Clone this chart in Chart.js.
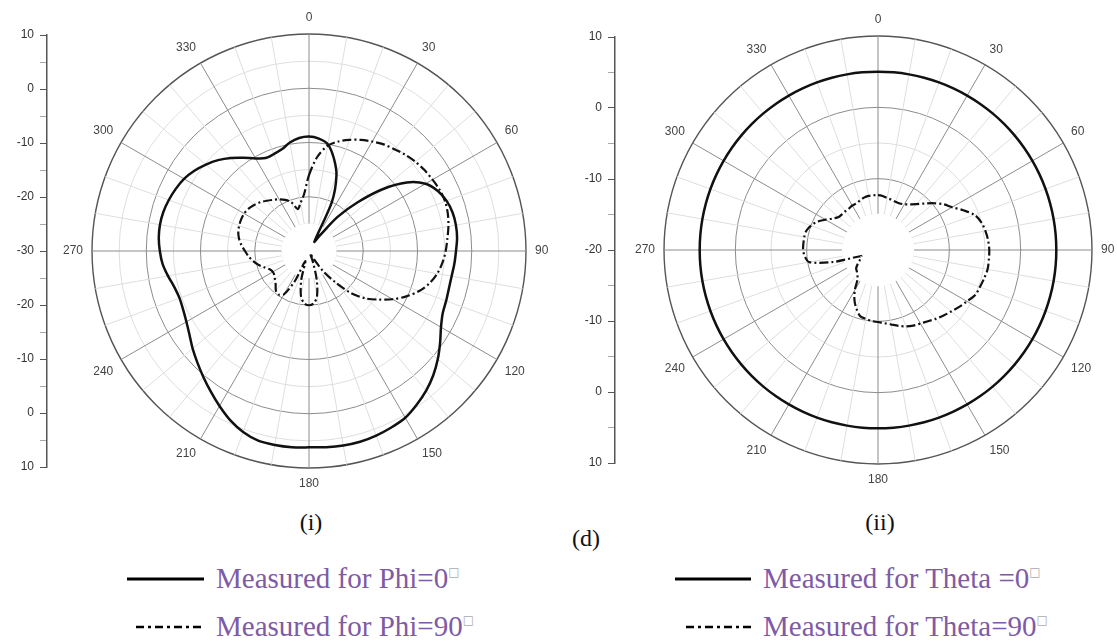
<!DOCTYPE html>
<html>
<head>
<meta charset="utf-8">
<script src="https://cdn.jsdelivr.net/npm/chart.js@4.4.1/dist/chart.umd.min.js"></script>
<style>
  html, body { margin: 0; padding: 0; background: #fff; overflow: hidden; }
  body { width: 1117px; height: 642px; position: relative; }
  canvas { position: absolute; }
  .cap { position: absolute; font-family: "Liberation Serif", "Times New Roman", serif; font-size: 24px; line-height: 28px; color: #111; transform: translateX(-50%); }
  .leg { position: absolute; font-family: "Liberation Serif", "Times New Roman", serif; font-size: 29px; line-height: 32px; color: #7f5aa6; white-space: nowrap; }
  .deg { font-family: "DejaVu Sans", sans-serif; font-size: 12px; color: #aaa; position: relative; top: -12px; }
  svg { position: absolute; }
</style>
</head>
<body>
<canvas id="axisL" width="60" height="500" style="left:0;top:0"></canvas>
<canvas id="polarL" width="492" height="492" style="left:60px;top:5px"></canvas>
<canvas id="axisR" width="60" height="500" style="left:568px;top:0"></canvas>
<canvas id="polarR" width="486" height="486" style="left:632px;top:7px"></canvas>

<div class="cap" style="left:311px;top:508px">(i)</div>
<div class="cap" style="left:586px;top:524px">(d)</div>
<div class="cap" style="left:880px;top:508px">(ii)</div>

<svg style="left:127px;top:574px" width="77" height="10"><line x1="0" y1="5" x2="77" y2="5" stroke="#000" stroke-width="3"/></svg>
<div class="leg" style="left:216px;top:562px">Measured for Phi=0<span class="deg">□</span></div>
<svg style="left:136px;top:622px" width="68" height="10"><line x1="0" y1="5" x2="68" y2="5" stroke="#000" stroke-width="2.5" stroke-dasharray="8 4 3 4"/></svg>
<div class="leg" style="left:216px;top:610px">Measured for Phi=90<span class="deg">□</span></div>

<svg style="left:675px;top:574px" width="76" height="10"><line x1="0" y1="5" x2="76" y2="5" stroke="#000" stroke-width="3"/></svg>
<div class="leg" style="left:763px;top:562px">Measured for Theta =0<span class="deg">□</span></div>
<svg style="left:686px;top:622px" width="65" height="10"><line x1="0" y1="5" x2="65" y2="5" stroke="#000" stroke-width="2.5" stroke-dasharray="8 4 3 4"/></svg>
<div class="leg" style="left:763px;top:610px">Measured for Theta=90<span class="deg">□</span></div>

<script>
// angle categories (degrees), one every 5
const angles = [0, 5, 10, 15, 20, 25, 30, 35, 40, 45, 50, 55, 60, 65, 70, 75, 80, 85,
  90, 95, 100, 105, 110, 115, 120, 125, 130, 135, 140, 145, 150, 155, 160, 165, 170, 175,
  180, 185, 190, 195, 200, 205, 210, 215, 220, 225, 230, 235, 240, 245, 250, 255, 260, 265,
  270, 275, 280, 285, 290, 295, 300, 305, 310, 315, 320, 325, 330, 335, 340, 345, 350, 355];

// (i) Phi cuts, dB
const phi0 = [-8.9, -9.2, -10.0, -12.3, -15.2, -20.0, -28.0, -26.5, -21.8, -17.3, -12.3, -8.0,
  -5.2, -3.8, -3.0, -2.6, -2.5, -2.6, -2.9, -3.1, -3.3, -3.3, -3.1, -2.8,
  -1.9, -0.5, 1.0, 2.4, 3.6, 4.6, 5.5, 5.9, 6.2, 6.4, 6.4, 6.3,
  6.2, 6.3, 6.3, 6.2, 5.5, 4.4, 3.0, 1.6, 0.3, -0.9, -2.0, -3.1,
  -3.9, -4.4, -4.6, -4.3, -3.6, -2.9, -2.5, -2.2, -2.1, -2.2, -2.5, -2.9,
  -3.4, -4.2, -5.2, -6.3, -7.6, -9.0, -10.3, -11.1, -11.0, -10.6, -9.7, -9.1];
const phi90 = [-16.0, -12.6, -10.3, -9.1, -8.2, -7.4, -6.7, -6.0, -5.5, -4.9, -4.4, -4.0,
  -3.7, -3.4, -3.3, -3.5, -3.9, -4.4, -4.8, -5.3, -6.0, -7.0, -8.4, -10.2,
  -12.2, -14.4, -16.4, -19.0, -22.5, -25.5, -28.5, -29.5, -28.0, -24.5, -21.5, -20.3,
  -20.0, -20.3, -21.5, -24.5, -28.0, -24.0, -20.8, -20.2, -20.5, -21.3, -21.8, -22.2,
  -22.3, -22.0, -21.2, -20.3, -19.5, -18.8, -18.2, -17.5, -16.9, -16.5, -16.3, -16.2,
  -16.2, -16.4, -16.8, -17.3, -17.9, -18.5, -19.0, -19.6, -20.4, -22.0, -21.0, -19.5];

// (ii) Theta cuts, dB
const theta0 = [5.0, 5.0, 5.0, 5.0, 5.0, 5.0, 5.0, 5.0, 5.0, 5.0, 5.0, 5.0,
  5.0, 5.0, 5.0, 5.0, 5.0, 5.0, 5.0, 5.0, 5.0, 5.0, 5.0, 5.0,
  5.0, 5.0, 5.0, 5.0, 5.0, 5.0, 5.0, 5.0, 5.0, 5.0, 5.0, 5.0,
  5.0, 5.0, 5.0, 5.0, 5.0, 5.0, 5.0, 5.0, 5.0, 5.0, 5.0, 5.0,
  5.0, 5.0, 5.0, 5.0, 5.0, 5.0, 5.0, 5.0, 5.0, 5.0, 5.0, 5.0,
  5.0, 5.0, 5.0, 5.0, 5.0, 5.0, 5.0, 5.0, 5.0, 5.0, 5.0, 5.0];
const theta90 = [-12.3, -12.4, -12.6, -12.7, -12.8, -12.8, -12.6, -12.2, -11.6, -10.8, -9.8, -8.8,
  -8.0, -6.8, -5.6, -5.0, -4.7, -4.5, -4.4, -4.4, -4.4, -4.6, -4.8, -5.0,
  -5.6, -6.1, -6.6, -7.0, -7.4, -7.8, -8.1, -8.3, -8.6, -9.0, -9.4, -9.7,
  -9.9, -10.0, -10.2, -10.4, -11.2, -12.2, -13.5, -15.0, -15.5, -15.8, -16.0, -16.5,
  -17.0, -17.3, -17.5, -13.5, -10.2, -9.7, -9.5, -9.5, -9.5, -9.6, -10.0, -10.6,
  -11.5, -12.3, -12.8, -12.9, -12.9, -12.9, -12.8, -12.8, -12.6, -12.4, -12.3, -12.3];

// mirrored radial-axis tick labels, top to bottom
const leftAxisTicks = [10, 0, -10, -20, -30, -20, -10, 0, 10];
const rightAxisTicks = [10, 0, -10, -20, -10, 0, 10];

const labelFont = { family: 'Arial, "Liberation Sans", sans-serif', size: 12 };

// blank disc in the middle, like the origin plot
const centerHole = {
  id: 'centerHole',
  beforeDatasetsDraw(chart) {
    const s = chart.scales.r;
    const rad = s.getDistanceFromCenterForValue(s.min + 5) + 0.5;
    const ctx = chart.ctx;
    ctx.save();
    ctx.fillStyle = '#fff';
    ctx.beginPath();
    ctx.arc(s.xCenter, s.yCenter, rad, 0, Math.PI * 2);
    ctx.fill();
    ctx.restore();
  }
};

function makePolar(id, min, max, solid, dashed) {
  new Chart(document.getElementById(id), {
    type: 'radar',
    data: {
      labels: angles,
      datasets: [
        { data: solid, borderColor: '#111', borderWidth: 2.5, fill: false, pointRadius: 0, tension: 0.3 },
        { data: dashed, borderColor: '#111', borderWidth: 2.2, borderDash: [9, 3, 2, 3], fill: false, pointRadius: 0, tension: 0.3 }
      ]
    },
    options: {
      responsive: false,
      animation: false,
      plugins: { legend: { display: false }, tooltip: { enabled: false } },
      scales: {
        r: {
          min, max,
          ticks: { display: false, stepSize: 5 },
          grid: {
            circular: true,
            color: (c) => c.tick.value === max ? '#555' : (c.tick.value % 10 === 0 ? '#8c8c8c' : '#dedede'),
            lineWidth: (c) => c.tick.value === max ? 1.4 : 1
          },
          angleLines: {
            color: (c) => angles[c.index] % 30 === 0 ? '#8c8c8c' : '#dedede',
            lineWidth: (c) => angles[c.index] % 10 === 0 ? 1 : 0
          },
          pointLabels: {
            padding: 9,
            color: '#444',
            font: labelFont,
            callback: (label) => (Number(label) % 30 === 0 ? String(label) : '')
          }
        }
      }
    },
    plugins: [centerHole]
  });
}

function makeAxis(id, labels, padTop, padBottom) {
  const n = labels.length - 1;
  new Chart(document.getElementById(id), {
    type: 'scatter',
    data: { datasets: [] },
    options: {
      responsive: false,
      animation: false,
      layout: { padding: { top: padTop, bottom: padBottom, left: 0, right: 0 } },
      plugins: { legend: { display: false }, tooltip: { enabled: false } },
      scales: {
        x: { display: false },
        y: {
          min: 0, max: n,
          afterFit(scale) { scale.width = 47; },
          border: { color: '#555', width: 1.5 },
          grid: {
            drawOnChartArea: false,
            tickLength: 7,
            tickColor: (c) => Number.isInteger(c.tick.value) ? '#555' : '#aaa'
          },
          ticks: {
            stepSize: 0.5,
            autoSkip: false,
            padding: 6,
            color: '#333',
            font: labelFont,
            callback: (v) => Number.isInteger(v) ? String(labels[n - v]) : ''
          }
        }
      }
    }
  });
}

makeAxis('axisL', leftAxisTicks, 35, 33);
makePolar('polarL', -30, 10, phi0, phi90);
makeAxis('axisR', rightAxisTicks, 37, 37);
makePolar('polarR', -20, 10, theta0, theta90);
</script>
</body>
</html>
